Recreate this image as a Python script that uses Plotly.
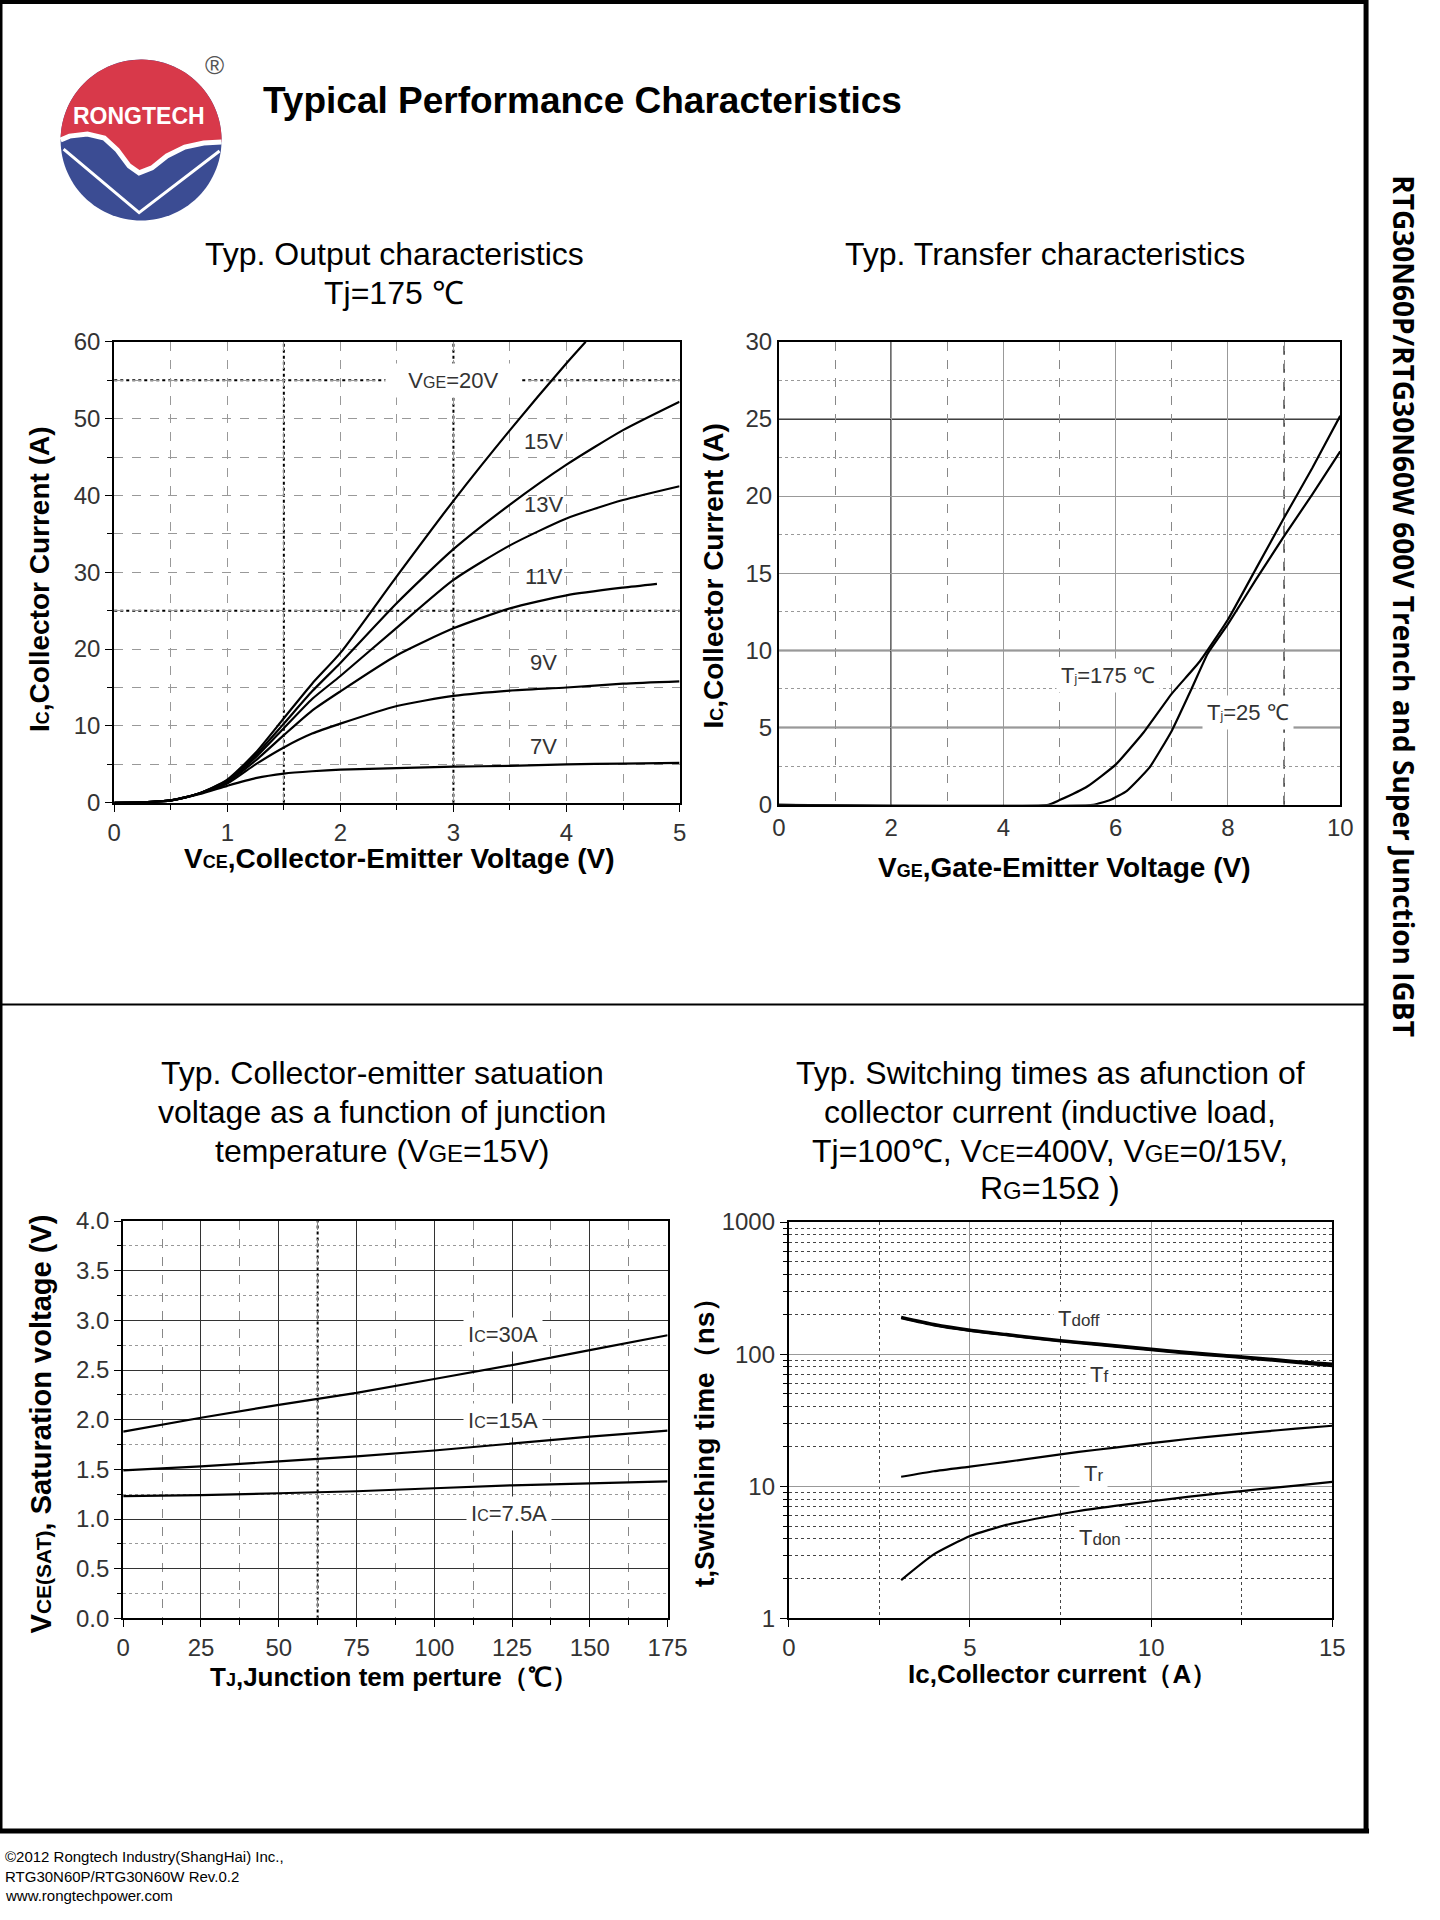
import math
import plotly.graph_objects as go

W, H = 1440, 1920
S = 0.9935


def PX(x):
    return x * S / W


def PY(y):
    return 1 - y * S / H


# ---------------- data ----------------
# Chart 1: output characteristics, Tj=175 C
vce_20 = [0, 0.25, 0.5, 0.75, 1.0, 1.25, 1.5, 1.75, 2.0, 2.5, 3.0, 3.5, 4.0, 4.17]
ic_20 = [0, 0.05, 0.3, 1.2, 3.0, 6.5, 11.0, 15.5, 19.5, 29.5, 39.3, 48.5, 57.2, 60.0]
vce_15 = [0, 0.25, 0.5, 0.75, 1.0, 1.25, 1.5, 1.75, 2.0, 2.5, 3.0, 3.5, 4.0, 4.5, 5.0]
ic_15 = [0, 0.05, 0.3, 1.2, 2.9, 6.2, 10.3, 14.5, 18.2, 26.0, 33.0, 38.8, 44.0, 48.5, 52.2]
vce_13 = [0, 0.25, 0.5, 0.75, 1.0, 1.25, 1.5, 1.75, 2.0, 2.5, 3.0, 3.5, 4.0, 4.5, 5.0]
ic_13 = [0, 0.05, 0.3, 1.2, 2.8, 5.9, 9.7, 13.5, 16.5, 22.8, 29.0, 33.5, 37.0, 39.4, 41.2]
vce_11 = [0, 0.25, 0.5, 0.75, 1.0, 1.25, 1.5, 1.75, 2.0, 2.5, 3.0, 3.5, 4.0, 4.5, 4.8]
ic_11 = [0, 0.05, 0.3, 1.2, 2.7, 5.5, 8.8, 12.0, 14.5, 19.2, 22.7, 25.3, 27.0, 28.0, 28.5]
vce_9 = [0, 0.25, 0.5, 0.75, 1.0, 1.25, 1.5, 1.75, 2.0, 2.5, 3.0, 3.5, 4.0, 4.5, 5.0]
ic_9 = [0, 0.05, 0.3, 1.2, 2.5, 5.0, 7.2, 9.0, 10.3, 12.6, 13.9, 14.6, 15.0, 15.5, 15.8]
vce_7 = [0, 0.25, 0.5, 0.75, 1.0, 1.25, 1.5, 1.75, 2.0, 2.5, 3.0, 3.5, 4.0, 4.5, 5.0]
ic_7 = [0, 0.05, 0.3, 1.1, 2.2, 3.2, 3.8, 4.1, 4.3, 4.5, 4.7, 4.8, 5.0, 5.1, 5.2]
out_curves = [(vce_20, ic_20), (vce_15, ic_15), (vce_13, ic_13),
              (vce_11, ic_11), (vce_9, ic_9), (vce_7, ic_7)]
out_labels = ["&nbsp;&nbsp;&nbsp;V<span style='font-size:16px'>GE</span>=20V&nbsp;&nbsp;&nbsp;",
              "15V", "13V", "11V", "9V", "7V"]
out_label_x = [3.0, 3.8, 3.8, 3.8, 3.8, 3.8]
out_label_y = [55.0, 47.0, 38.8, 29.5, 18.3, 7.3]

# Chart 2: transfer characteristics
vge_175 = [0, 4.8, 5.0, 5.5, 6.0, 6.5, 7.0, 7.5, 8.0, 8.5, 9.0, 9.5, 10.0]
ic_175 = [0, 0, 0.3, 1.2, 2.6, 4.7, 7.2, 9.3, 12.0, 15.3, 18.6, 21.8, 25.2]
vge_25 = [0, 5.6, 5.9, 6.2, 6.6, 7.0, 7.35, 7.64, 8.0, 8.5, 9.0, 9.5, 10.0]
ic_25 = [0, 0, 0.3, 0.9, 2.4, 4.8, 7.5, 9.8, 11.7, 14.6, 17.4, 20.1, 22.9]
tr_labels = ["T<span style='font-size:12px'>j</span>=175 ℃", "T<span style='font-size:12px'>j</span>=25 ℃"]
tr_label_x = [5.87, 8.36]
tr_label_y = [8.35, 6.0]

# Chart 3: VCE(sat) vs junction temperature
tj = [0, 25, 50, 75, 100, 125, 150, 175]
vsat_30 = [1.88, 2.02, 2.15, 2.27, 2.41, 2.55, 2.70, 2.85]
vsat_15 = [1.49, 1.53, 1.58, 1.63, 1.69, 1.76, 1.83, 1.89]
vsat_75 = [1.23, 1.24, 1.26, 1.28, 1.31, 1.34, 1.36, 1.38]
sat_labels = ["I<span style='font-size:16px'>C</span>=30A",
              "I<span style='font-size:16px'>C</span>=15A",
              "I<span style='font-size:16px'>C</span>=7.5A"]
sat_label_x = [122, 122, 124]
sat_label_y = [2.86, 1.99, 1.06]

# Chart 4: switching times vs collector current
ic_sw = [3.1, 4, 5, 6, 7, 8, 9, 10, 11, 12, 13, 14, 15]
t_doff = [190, 168, 152, 141, 131, 123, 116, 109, 103, 98, 93, 88, 84]
t_f = [187, 165, 150, 139, 129, 121, 114, 107, 101, 96, 91, 86, 81]
t_r = [11.8, 13.0, 14.1, 15.3, 16.7, 18.2, 19.6, 21.2, 22.8, 24.3, 25.8, 27.3, 28.7]
t_don = [1.95, 3.05, 4.2, 5.1, 5.8, 6.5, 7.1, 7.7, 8.3, 8.9, 9.5, 10.1, 10.8]
sw_labels = ["T<span style='font-size:17px'>doff</span>", "T<span style='font-size:17px'>f</span>",
             "T<span style='font-size:17px'>r</span>", "T<span style='font-size:17px'>don</span>"]
sw_label_x = [8.0, 8.55, 8.4, 8.6]
sw_label_y = [185, 70, 12.5, 4.1]

# heavier grid accents
heavy_x1 = [1.5, 3.0]
heavy_y1 = [25, 55]
solid_x2 = [2]
solid_y2 = [5, 10, 25]
heavy_x2 = [9]
heavy_x3 = [62.5]

FONT = "Liberation Sans, Arial, sans-serif"
TICKFONT = dict(family=FONT, size=24, color="#333")
LBLFONT = dict(family=FONT, size=22, color="#333")

fig = go.Figure()
line_style = dict(color="black", width=2.2, shape="spline", smoothing=0.6)

for xs, ys in out_curves:
    fig.add_trace(go.Scatter(x=xs, y=ys, xaxis="x", yaxis="y", mode="lines",
                             line=line_style, showlegend=False, hoverinfo="skip"))
for xs, ys in [(vge_175, ic_175), (vge_25, ic_25)]:
    fig.add_trace(go.Scatter(x=xs, y=ys, xaxis="x2", yaxis="y2", mode="lines",
                             line=dict(color="black", width=2.2, shape="spline", smoothing=0.4),
                             showlegend=False, hoverinfo="skip"))
for ys in [vsat_30, vsat_15, vsat_75]:
    fig.add_trace(go.Scatter(x=tj, y=ys, xaxis="x3", yaxis="y3", mode="lines",
                             line=dict(color="black", width=2.2),
                             showlegend=False, hoverinfo="skip"))
for ys, wdt in [(t_doff, 3.2), (t_f, 2.2), (t_r, 2.2), (t_don, 2.2)]:
    fig.add_trace(go.Scatter(x=ic_sw, y=ys, xaxis="x4", yaxis="y4", mode="lines",
                             line=dict(color="black", width=wdt, shape="spline", smoothing=0.5),
                             showlegend=False, hoverinfo="skip"))


def axis(domain, rng, dtick, anchor, minor=None, grid="#999", griddash="dash",
         ticks="outside", ticklen=7, typ="linear", tickformat=None):
    d = dict(domain=domain, range=rng, dtick=dtick, anchor=anchor, type=typ,
             showline=True, mirror=True, linecolor="black", linewidth=2,
             showgrid=True, gridcolor=grid, gridwidth=1, griddash=griddash,
             zeroline=False, ticks=ticks, ticklen=ticklen, tickcolor="black",
             tickfont=TICKFONT, automargin=False, fixedrange=True)
    if tickformat:
        d["tickformat"] = tickformat
    if minor:
        d["minor"] = minor
    return d


fig.update_layout(
    width=W, height=H, margin=dict(l=0, r=0, t=0, b=0),
    paper_bgcolor="white", plot_bgcolor="white",
    xaxis=axis([PX(115), PX(684)], [0, 5], 1, "y",
               minor=dict(dtick=0.5, showgrid=True, gridcolor="#999", griddash="dash",
                          ticks="outside", ticklen=5, tickcolor="black")),
    yaxis=axis([PY(808), PY(344)], [0, 60], 10, "x",
               minor=dict(dtick=5, showgrid=True, gridcolor="#999", griddash="dash",
                          ticks="outside", ticklen=5, tickcolor="black")),
    xaxis2=axis([PX(784), PX(1349)], [0, 10], 2, "y2", grid="#999", griddash="solid", ticks="",
                minor=dict(dtick=1, showgrid=True, gridcolor="#888", griddash="dash")),
    yaxis2=axis([PY(810), PY(344)], [0, 30], 5, "x2", grid="#999", griddash="solid", ticks="",
                minor=dict(dtick=2.5, showgrid=True, gridcolor="#999", griddash="dot")),
    xaxis3=axis([PX(124), PX(672)], [0, 175], 25, "y3", grid="#333", griddash="solid",
                minor=dict(dtick=12.5, showgrid=True, gridcolor="#888", griddash="dash",
                           ticks="outside", ticklen=5, tickcolor="black")),
    yaxis3=axis([PY(1629), PY(1229)], [0, 4], 0.5, "x3", grid="#333", griddash="solid",
                tickformat=".1f",
                minor=dict(dtick=0.25, showgrid=True, gridcolor="#999", griddash="dot",
                           ticks="outside", ticklen=4, tickcolor="black")),
    xaxis4=axis([PX(794), PX(1341)], [0, 15], 5, "y4", grid="#999", griddash="solid",
                minor=dict(dtick=2.5, showgrid=True, gridcolor="#444", griddash="dot",
                           ticks="outside", ticklen=5, tickcolor="black")),
    yaxis4=axis([PY(1629), PY(1230)], [0, 3], 1, "x4", typ="log", grid="#999", griddash="solid",
                minor=dict(dtick="D1", showgrid=True, gridcolor="#444", griddash="dot",
                           ticks="outside", ticklen=4, tickcolor="black")),
)

shapes = []


def vline(xr, yr, v, w, dash, color="black"):
    shapes.append(dict(type="line", xref=xr, yref=yr + " domain", x0=v, x1=v, y0=0, y1=1,
                       line=dict(color=color, width=w, dash=dash), layer="below"))


def hline(xr, yr, v, w, dash, color="black"):
    shapes.append(dict(type="line", xref=xr + " domain", yref=yr, x0=0, x1=1, y0=v, y1=v,
                       line=dict(color=color, width=w, dash=dash), layer="below"))


for v in heavy_x1:
    vline("x", "y", v, 2, "dot")
for v in heavy_y1:
    hline("x", "y", v, 2, "dot")
for v in solid_x2:
    vline("x2", "y2", v, 1.5, "solid")
for v in solid_y2:
    hline("x2", "y2", v, 1.5, "solid")
for v in heavy_x2:
    vline("x2", "y2", v, 1.5, "dash", color="#333")
for v in heavy_x3:
    vline("x3", "y3", v, 2, "dot")


# page frame
def pline(x0, y0, x1, y1, w, color="black"):
    shapes.append(dict(type="line", xref="paper", yref="paper", x0=PX(x0), y0=PY(y0),
                       x1=PX(x1), y1=PY(y1), line=dict(color=color, width=w)))


pline(1, 0, 1, 1843, 3)
pline(0, 2, 1376, 2, 4)
pline(1375, 0, 1375, 1845, 5)
pline(0, 1843, 1378, 1843, 5)
pline(0, 1011, 1375, 1011, 2)


# logo
def path(pts, close=True):
    s = "M " + " L ".join(f"{PX(x):.5f},{PY(y):.5f}" for x, y in pts)
    return s + (" Z" if close else "")


cx, cy, r = 142, 141, 81
circle = [(cx + r * math.cos(math.radians(a)), cy - r * math.sin(math.radians(a)))
          for a in range(0, 361, 3)]
shapes.append(dict(type="path", xref="paper", yref="paper", path=path(circle),
                   fillcolor="#3b4c93", line=dict(width=0)))
wave = [(223, 143), (205, 144), (186, 148), (168, 157), (153, 169), (140, 174),
        (130, 167), (118, 151), (105, 139), (88, 135), (70, 137), (61, 141)]
arc = [(cx + r * math.cos(math.radians(a)), cy - r * math.sin(math.radians(a)))
       for a in range(179, -1, -3)]
shapes.append(dict(type="path", xref="paper", yref="paper", path=path(arc + wave),
                   fillcolor="#d8394a", line=dict(width=0)))
shapes.append(dict(type="path", xref="paper", yref="paper", path=path(wave, close=False),
                   line=dict(color="white", width=5)))
vshape = [(64, 150), (140, 214), (221, 152)]
shapes.append(dict(type="path", xref="paper", yref="paper", path=path(vshape, close=False),
                   line=dict(color="white", width=3)))

annotations = []


def ptext(x, y, text, size, bold=False, color="black", xanchor="center", angle=0,
          family=FONT):
    annotations.append(dict(xref="paper", yref="paper", x=PX(x), y=PY(y),
                            text=f"<b>{text}</b>" if bold else text, showarrow=False,
                            xanchor=xanchor, yanchor="middle", textangle=angle,
                            font=dict(family=family, size=size, color=color)))


ptext(140, 117, "RONGTECH", 23, bold=True, color="white")
ptext(216, 65, "®", 26, color="#555")
ptext(263, 101, "Typical Performance Characteristics", 37, bold=True, xanchor="left")
ptext(1413, 610, "RTG30N60P/RTG30N60W 600V Trench and Super Junction IGBT", 28, bold=True,
      angle=90, family="Open Sans, sans-serif")

# chart titles
TS = 32
SUB = "<span style='font-size:24px'>"
ptext(397, 256, "Typ. Output characteristics", TS)
ptext(397, 295, "Tj=175 ℃", TS)
ptext(1052, 256, "Typ. Transfer characteristics", TS)
ptext(385, 1080, "Typ. Collector-emitter satuation", TS)
ptext(385, 1119, "voltage as a function of junction", TS)
ptext(385, 1159, f"temperature (V{SUB}GE</span>=15V)", TS)
ptext(1057, 1080, "Typ. Switching times as afunction of", TS)
ptext(1057, 1119, "collector current (inductive load,", TS)
ptext(1057, 1159, f"Tj=100℃, V{SUB}CE</span>=400V, V{SUB}GE</span>=0/15V,", TS)
ptext(1057, 1196, f"R{SUB}G</span>=15Ω )", TS)

# axis titles
AS = 28
ASUB = "<span style='font-size:18px'>"
ptext(39, 583, f"I{ASUB}C</span>,Collector Current (A)", AS, bold=True, angle=-90)
ptext(402, 864, f"V{ASUB}CE</span>,Collector-Emitter Voltage (V)", AS, bold=True)
ptext(718, 580, f"I{ASUB}C</span>,Collector Current (A)", AS, bold=True, angle=-90)
ptext(1071, 873, f"V{ASUB}GE</span>,Gate-Emitter Voltage (V)", AS, bold=True)
ptext(41, 1433, "V<span style='font-size:21px'>CE(SAT)</span>, Saturation voltage (V)", 29, bold=True, angle=-90)
ptext(397, 1688, f"T{ASUB}J</span>,Junction tem perture（℃）", 26, bold=True)
ptext(709, 1445, "t,Switching time（ns）", 28, bold=True, angle=-90)
ptext(1069, 1685, "Ic,Collector current（A）", 26, bold=True)

# footer
ptext(3, 1869, "©2012 Rongtech Industry(ShangHai) Inc.,", 15, xanchor="left")
ptext(3, 1889, "RTG30N60P/RTG30N60W Rev.0.2", 15, xanchor="left")
ptext(3, 1908, "www.rongtechpower.com", 15, xanchor="left")


def dlabel(xr, yr, x, y, text, bg=True):
    a = dict(xref=xr, yref=yr, x=x, y=y, text=text, showarrow=False,
             xanchor="center", yanchor="middle", font=LBLFONT)
    if bg:
        a.update(bgcolor="white", borderpad=4)
    annotations.append(a)


for t, x, y in zip(out_labels, out_label_x, out_label_y):
    dlabel("x", "y", x, y, t, bg=("GE" in t))
for t, x, y in zip(tr_labels, tr_label_x, tr_label_y):
    dlabel("x2", "y2", x, y, t)
for t, x, y in zip(sat_labels, sat_label_x, sat_label_y):
    dlabel("x3", "y3", x, y, t)
for t, x, y in zip(sw_labels, sw_label_x, sw_label_y):
    dlabel("x4", "y4", x, math.log10(y), t)

fig.update_layout(shapes=shapes, annotations=annotations)

fig.write_html("out.html", config={"displayModeBar": False},
               post_script="document.body.style.margin='0';document.body.style.padding='0';")
